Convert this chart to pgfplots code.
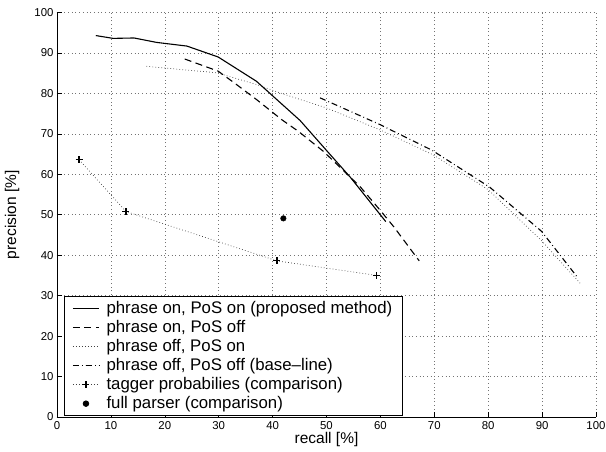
\documentclass[border=0pt]{standalone}
\usepackage{pgfplots}
\pgfplotsset{compat=1.18}
\usepackage{fontspec}
\setmainfont{Liberation Sans}
\begin{document}
\begin{tikzpicture}
\begin{axis}[
  name=ax,
  scale only axis,
  width=539pt, height=404.5pt,
  xmin=0, xmax=100, ymin=0, ymax=100,
  xtick distance=10, ytick distance=10,
  axis x line*=bottom, axis y line*=left,
  axis line style={-, black, line width=0.7pt},
  tick align=inside, major tick length=5pt,
  tick style={black, line width=0.6pt},
  grid=major,
  major grid style={black!55, line width=0.5pt, dash pattern=on 0.7pt off 3pt},
  /pgf/number format/assume math mode=true,
  tick label style={font=\fontsize{11.4}{13}\selectfont},
  xticklabel style={yshift=-1.5pt},
  label style={font=\fontsize{15.5}{18}\selectfont},
  xlabel={recall [\%]}, ylabel={precision [\%]},
  xlabel style={at={(axis description cs:0.5,-0.056)}, anchor=center},
  ylabel style={at={(axis description cs:-0.0835,0.5)}, anchor=center},
  legend cell align=left,
  legend style={at={(rel axis cs:0.013,0.299)}, anchor=north west,
    draw=black, line width=0.8pt, fill=white,
    font=\fontsize{16.8}{18}\selectfont, row sep=1.4pt, column sep=5pt,
    inner xsep=8pt, inner ysep=3pt},
  legend image code/.code={
    \draw[mark repeat=2, mark phase=2, #1]
      plot coordinates {(0pt,0pt) (13pt,0pt) (26pt,0pt)};},
]
% phrase on, PoS on
\addplot[black, line width=1.1pt] coordinates {
  (7.2,94.3) (10.4,93.6) (14.3,93.7) (18.5,92.6) (24.1,91.7) (29.9,89.0)
  (37.0,83.0) (45.1,73.3) (50.0,65.9) (54.4,59.3) (61.0,48.3)};
\addlegendentry{phrase on, PoS on (proposed method)}
% phrase on, PoS off
\addplot[black, line width=1.1pt, dash pattern=on 7pt off 4.5pt] coordinates {
  (23.7,88.5) (29.9,85.5) (33.3,82.2) (37.0,78.5) (41.7,73.5) (44.8,70.6)
  (49.4,65.7) (56.2,57.0) (59.9,51.2) (62.5,47.0) (67.2,38.6)};
\addlegendentry{phrase on, PoS off}
% phrase off, PoS on
\addplot[black!75, line width=0.7pt, dash pattern=on 0.7pt off 2.3pt] coordinates {
  (16.6,86.7) (22.2,86.0) (29.6,85.1) (37.0,82.2) (41.4,80.1) (50.0,76.4)
  (59.9,71.0) (69.8,64.8) (80.0,56.2) (89.9,43.6) (97.3,32.7)};
\addlegendentry{phrase off, PoS on}
% phrase off, PoS off
\addplot[black, line width=1.1pt, dash pattern=on 6pt off 3pt on 0.8pt off 3pt] coordinates {
  (48.8,78.9) (59.9,72.3) (69.5,66.0) (80.3,56.8) (89.9,45.9) (96.4,34.8)};
\addlegendentry{phrase off, PoS off (base--line)}
% tagger probabilities
\addplot[black!75, line width=0.7pt, dash pattern=on 0.7pt off 2.3pt,
  mark=+, mark size=3.5pt,
  mark options={solid, black, line width=1.2pt}] coordinates {
  (4.1,63.6) (12.8,50.8) (40.8,38.6) (59.3,35.0)};
\addlegendentry{tagger probabilies (comparison)}
% full parser
\addplot[only marks, mark=*, mark size=2.8pt, black] coordinates {(42.0,49.1)};
\addlegendentry{full parser (comparison)}
\end{axis}
\pgfresetboundingbox
\path (ax.south west) ++(-57pt,-35pt) rectangle ++(606pt,452pt);
\end{tikzpicture}
\end{document}
